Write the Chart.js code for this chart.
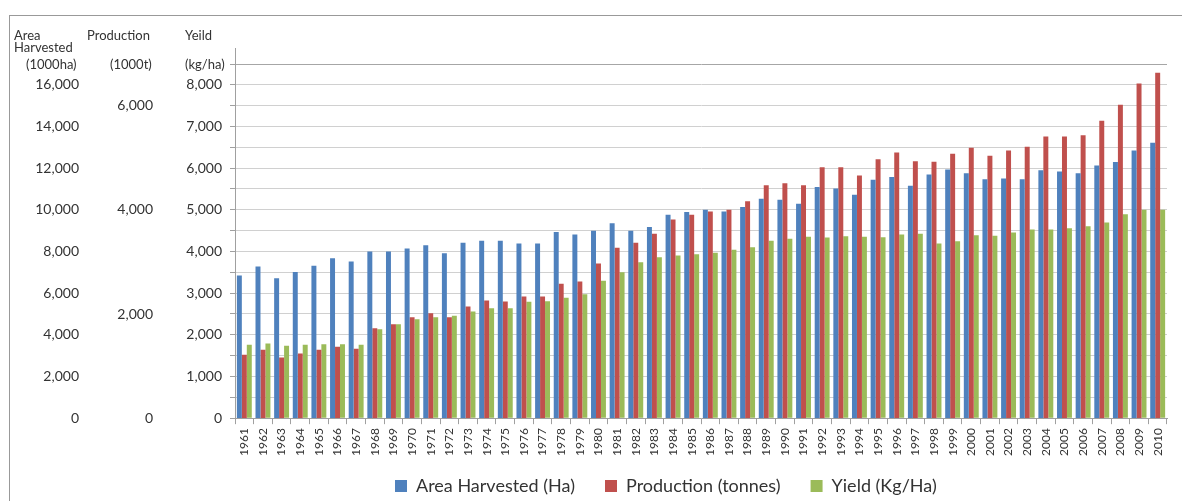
<!DOCTYPE html>
<html>
<head>
<meta charset="utf-8">
<script src="https://cdn.jsdelivr.net/npm/chart.js@4.4.0/dist/chart.umd.min.js"></script>
<style>
  html, body { margin: 0; padding: 0; background: #fff; overflow: hidden; }
  #frame { position: absolute; left: 9px; top: 15px; width: 1200px; height: 600px; border: 1px solid #999; }
  #chart { position: absolute; left: 0; top: 0; }
</style>
</head>
<body>
<div id="frame"></div>
<canvas id="chart" width="1182" height="501"></canvas>
<script>
// years on the x axis
var years = [];
for (var y = 1961; y <= 2010; y++) years.push(String(y));

// area harvested, 1000 ha
var areaHarvested = [
  6850, 7280, 6720, 7010, 7310, 7680, 7520, 8000, 8000, 8140,
  8300, 7920, 8420, 8510, 8510, 8380, 8380, 8940, 8820, 8990,
  9360, 8990, 9170, 9760, 9890, 10000, 9920, 10130, 10530, 10480,
  10290, 11090, 11020, 10720, 11440, 11570, 11150, 11700, 11940, 11760,
  11470, 11500, 11470, 11900, 11840, 11760, 12130, 12290, 12850, 13220
];

// production, 1000 t
var production = [
  1216, 1312, 1165, 1242, 1312, 1370, 1331, 1728, 1805, 1939,
  2016, 1939, 2144, 2259, 2240, 2336, 2336, 2579, 2624, 2970,
  3270, 3366, 3539, 3814, 3904, 3968, 4000, 4166, 4474, 4512,
  4474, 4819, 4819, 4659, 4973, 5101, 4934, 4922, 5075, 5190,
  5037, 5139, 5210, 5408, 5408, 5434, 5709, 6016, 6426, 6630
];

// yield, kg/ha
var yieldKg = [
  1760, 1792, 1736, 1760, 1776, 1776, 1760, 2136, 2256, 2376,
  2424, 2456, 2560, 2640, 2640, 2792, 2808, 2888, 2976, 3296,
  3504, 3744, 3864, 3904, 3936, 3968, 4040, 4104, 4256, 4304,
  4352, 4336, 4368, 4352, 4344, 4408, 4424, 4192, 4248, 4392,
  4376, 4456, 4528, 4528, 4560, 4608, 4696, 4896, 5000, 5000
];

// tick labels of the two extra left axes
var areaTicks = [0, 2000, 4000, 6000, 8000, 10000, 12000, 14000, 16000];
var prodTicks = [0, 2000, 4000, 6000];

var textColor = '#333';
var legendFontSize = 18;
var fmt = function (v) { return Number(v).toLocaleString('en-US'); };

// header text above the three left axes
var axisHeaders = {
  id: 'axisHeaders',
  afterDraw: function (chart) {
    var ctx = chart.ctx;
    var yScale = chart.scales.yld;
    ctx.save();
    ctx.font = '13px Lato';
    ctx.fillStyle = textColor;
    ctx.textAlign = 'left';
    ctx.fillText('Area', 14, 36);
    ctx.fillText('Harvested', 14, 48);
    ctx.fillText('(1000ha)', 26, 65);
    ctx.fillText('Production', 87, 36);
    ctx.fillText('(1000t)', 110, 65);
    ctx.fillText('Yeild', 185, 36);
    ctx.fillText('(kg/ha)', 185, 65);
    // axis line runs a bit above the plot
    ctx.strokeStyle = '#a0a0a0';
    ctx.lineWidth = 1;
    ctx.beginPath();
    ctx.moveTo(yScale.right + 0.5, 48);
    ctx.lineTo(yScale.right + 0.5, chart.chartArea.top);
    ctx.stroke();
    ctx.restore();
  }
};

// put the legend row where the original has it
var legendPlace = {
  id: 'legendPlace',
  afterLayout: function (chart) {
    var lg = chart.legend;
    var pad = lg.options.labels.padding;
    var dx = 395 - (lg.left + pad);
    lg.left += dx;
    lg.right += dx;
    var top = 486 - pad - legendFontSize / 2;
    lg.bottom = top + lg.height;
    lg.top = top;
  }
};

Chart.defaults.font.family = 'Lato';
Chart.defaults.color = textColor;

new Chart(document.getElementById('chart'), {
  type: 'bar',
  data: {
    labels: years,
    datasets: [
      { label: 'Area Harvested (Ha)', data: areaHarvested, yAxisID: 'area', backgroundColor: '#4F81BD', borderWidth: 0 },
      { label: 'Production (tonnes)', data: production, yAxisID: 'prod', backgroundColor: '#C0504D', borderWidth: 0 },
      { label: 'Yield (Kg/Ha)', data: yieldKg, yAxisID: 'yld', backgroundColor: '#9BBB59', borderWidth: 0 }
    ]
  },
  options: {
    responsive: false,
    animation: false,
    categoryPercentage: 0.8,
    barPercentage: 1.0,
    layout: { padding: { top: 64, right: 15, bottom: -17, left: 0 } },
    plugins: {
      tooltip: { enabled: false },
      legend: {
        position: 'bottom',
        align: 'start',
        labels: { boxWidth: 12, boxHeight: 12, padding: 30, font: { size: legendFontSize }, color: textColor }
      }
    },
    scales: {
      x: {
        grid: { display: true, drawOnChartArea: false, drawTicks: true, tickLength: 6, color: '#a0a0a0', offset: true },
        border: { color: '#a0a0a0' },
        ticks: { autoSkip: false, minRotation: 90, maxRotation: 90, padding: 4, font: { size: 12 }, color: textColor }
      },
      area: {
        position: 'left', weight: 3,
        min: 0, max: 17000,
        grid: { display: false, drawTicks: false },
        border: { display: false },
        ticks: { padding: 0, font: { size: 14 }, color: textColor, callback: fmt },
        afterBuildTicks: function (s) { s.ticks = areaTicks.map(function (v) { return { value: v }; }); },
        afterFit: function (s) { s.width = 79; }
      },
      prod: {
        position: 'left', weight: 2,
        min: 0, max: 6800,
        grid: { display: false, drawTicks: false },
        border: { display: false },
        ticks: { padding: 0, font: { size: 14 }, color: textColor, callback: fmt },
        afterBuildTicks: function (s) { s.ticks = prodTicks.map(function (v) { return { value: v }; }); },
        afterFit: function (s) { s.width = 74; }
      },
      yld: {
        position: 'left', weight: 1,
        min: 0, max: 8500,
        grid: {
          color: function (c) { return c.tick && c.tick.value === 8500 ? '#a6a6a6' : '#d0d0d0'; },
          tickColor: '#a0a0a0', tickLength: 5
        },
        border: { color: '#a0a0a0' },
        ticks: {
          stepSize: 500, padding: 8, font: { size: 14 }, color: textColor,
          callback: function (v) { return v % 1000 === 0 ? fmt(v) : ''; }
        },
        afterFit: function (s) { s.width = 82; }
      }
    }
  },
  plugins: [axisHeaders, legendPlace]
});
</script>
</body>
</html>
